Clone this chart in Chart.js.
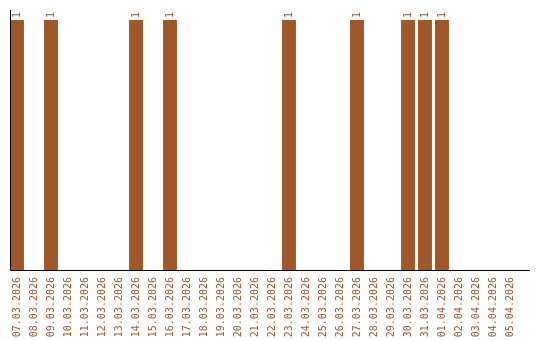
<!DOCTYPE html>
<html lang="en">
<head>
    <meta charset="UTF-8">
    <title>Daily count</title>
    <script src="https://cdn.jsdelivr.net/npm/chart.js"></script>
    <style>
        html, body { margin: 0; padding: 0; background: #ffffff; }
        #wrap { width: 540px; height: 340px; }
    </style>
</head>
<body>
    <div id="wrap"><canvas id="dayChart" width="540" height="340"></canvas></div>
    <script>
        const days = [
            '07.03.2026', '08.03.2026', '09.03.2026', '10.03.2026', '11.03.2026',
            '12.03.2026', '13.03.2026', '14.03.2026', '15.03.2026', '16.03.2026',
            '17.03.2026', '18.03.2026', '19.03.2026', '20.03.2026', '21.03.2026',
            '22.03.2026', '23.03.2026', '24.03.2026', '25.03.2026', '26.03.2026',
            '27.03.2026', '28.03.2026', '29.03.2026', '30.03.2026', '31.03.2026',
            '01.04.2026', '02.04.2026', '03.04.2026', '04.04.2026', '05.04.2026'
        ];
        const counts = [
            1, 0, 1, 0, 0, 0, 0, 1, 0, 1,
            0, 0, 0, 0, 0, 0, 1, 0, 0, 0,
            1, 0, 0, 1, 1, 1, 0, 0, 0, 0
        ];

        const brown = '#a0582a';
        const monoFont = { family: '"DejaVu Sans Mono", monospace', size: 10 };

        // axis lines and the little rotated value labels above each bar
        const extras = {
            id: 'extras',
            afterDatasetsDraw(chart) {
                const c = chart.ctx;
                const area = chart.chartArea;
                c.save();
                c.strokeStyle = '#000000';
                c.lineWidth = 1;
                c.beginPath();
                c.moveTo(10.5, area.top);
                c.lineTo(10.5, area.bottom + 0.5);
                c.lineTo(530, area.bottom + 0.5);
                c.stroke();

                c.fillStyle = brown;
                c.font = '10px "DejaVu Sans Mono", monospace';
                c.textAlign = 'left';
                c.textBaseline = 'middle';
                chart.getDatasetMeta(0).data.forEach((bar, i) => {
                    if (!counts[i]) return;
                    c.save();
                    c.translate(bar.x, bar.y - 2);
                    c.rotate(-Math.PI / 2);
                    c.fillText(String(counts[i]), 0, 0);
                    c.restore();
                });
                c.restore();
            }
        };

        new Chart(document.getElementById('dayChart').getContext('2d'), {
            type: 'bar',
            data: {
                labels: days,
                datasets: [{
                    data: counts,
                    backgroundColor: brown,
                    borderWidth: 0,
                    barPercentage: 0.82,
                    categoryPercentage: 1.0
                }]
            },
            options: {
                responsive: false,
                animation: false,
                layout: { padding: { left: 8.5, right: 21.5, top: 10, bottom: 0 } },
                plugins: {
                    legend: { display: false },
                    tooltip: { enabled: false }
                },
                scales: {
                    x: {
                        grid: { display: false, drawTicks: false },
                        border: { display: false },
                        ticks: {
                            autoSkip: false,
                            minRotation: 90,
                            maxRotation: 90,
                            padding: 7,
                            color: brown,
                            font: monoFont
                        },
                        afterFit(scale) { scale.height = 70; }
                    },
                    y: {
                        display: false,
                        min: 0,
                        max: 1.04
                    }
                }
            },
            plugins: [extras]
        });
    </script>
</body>
</html>
